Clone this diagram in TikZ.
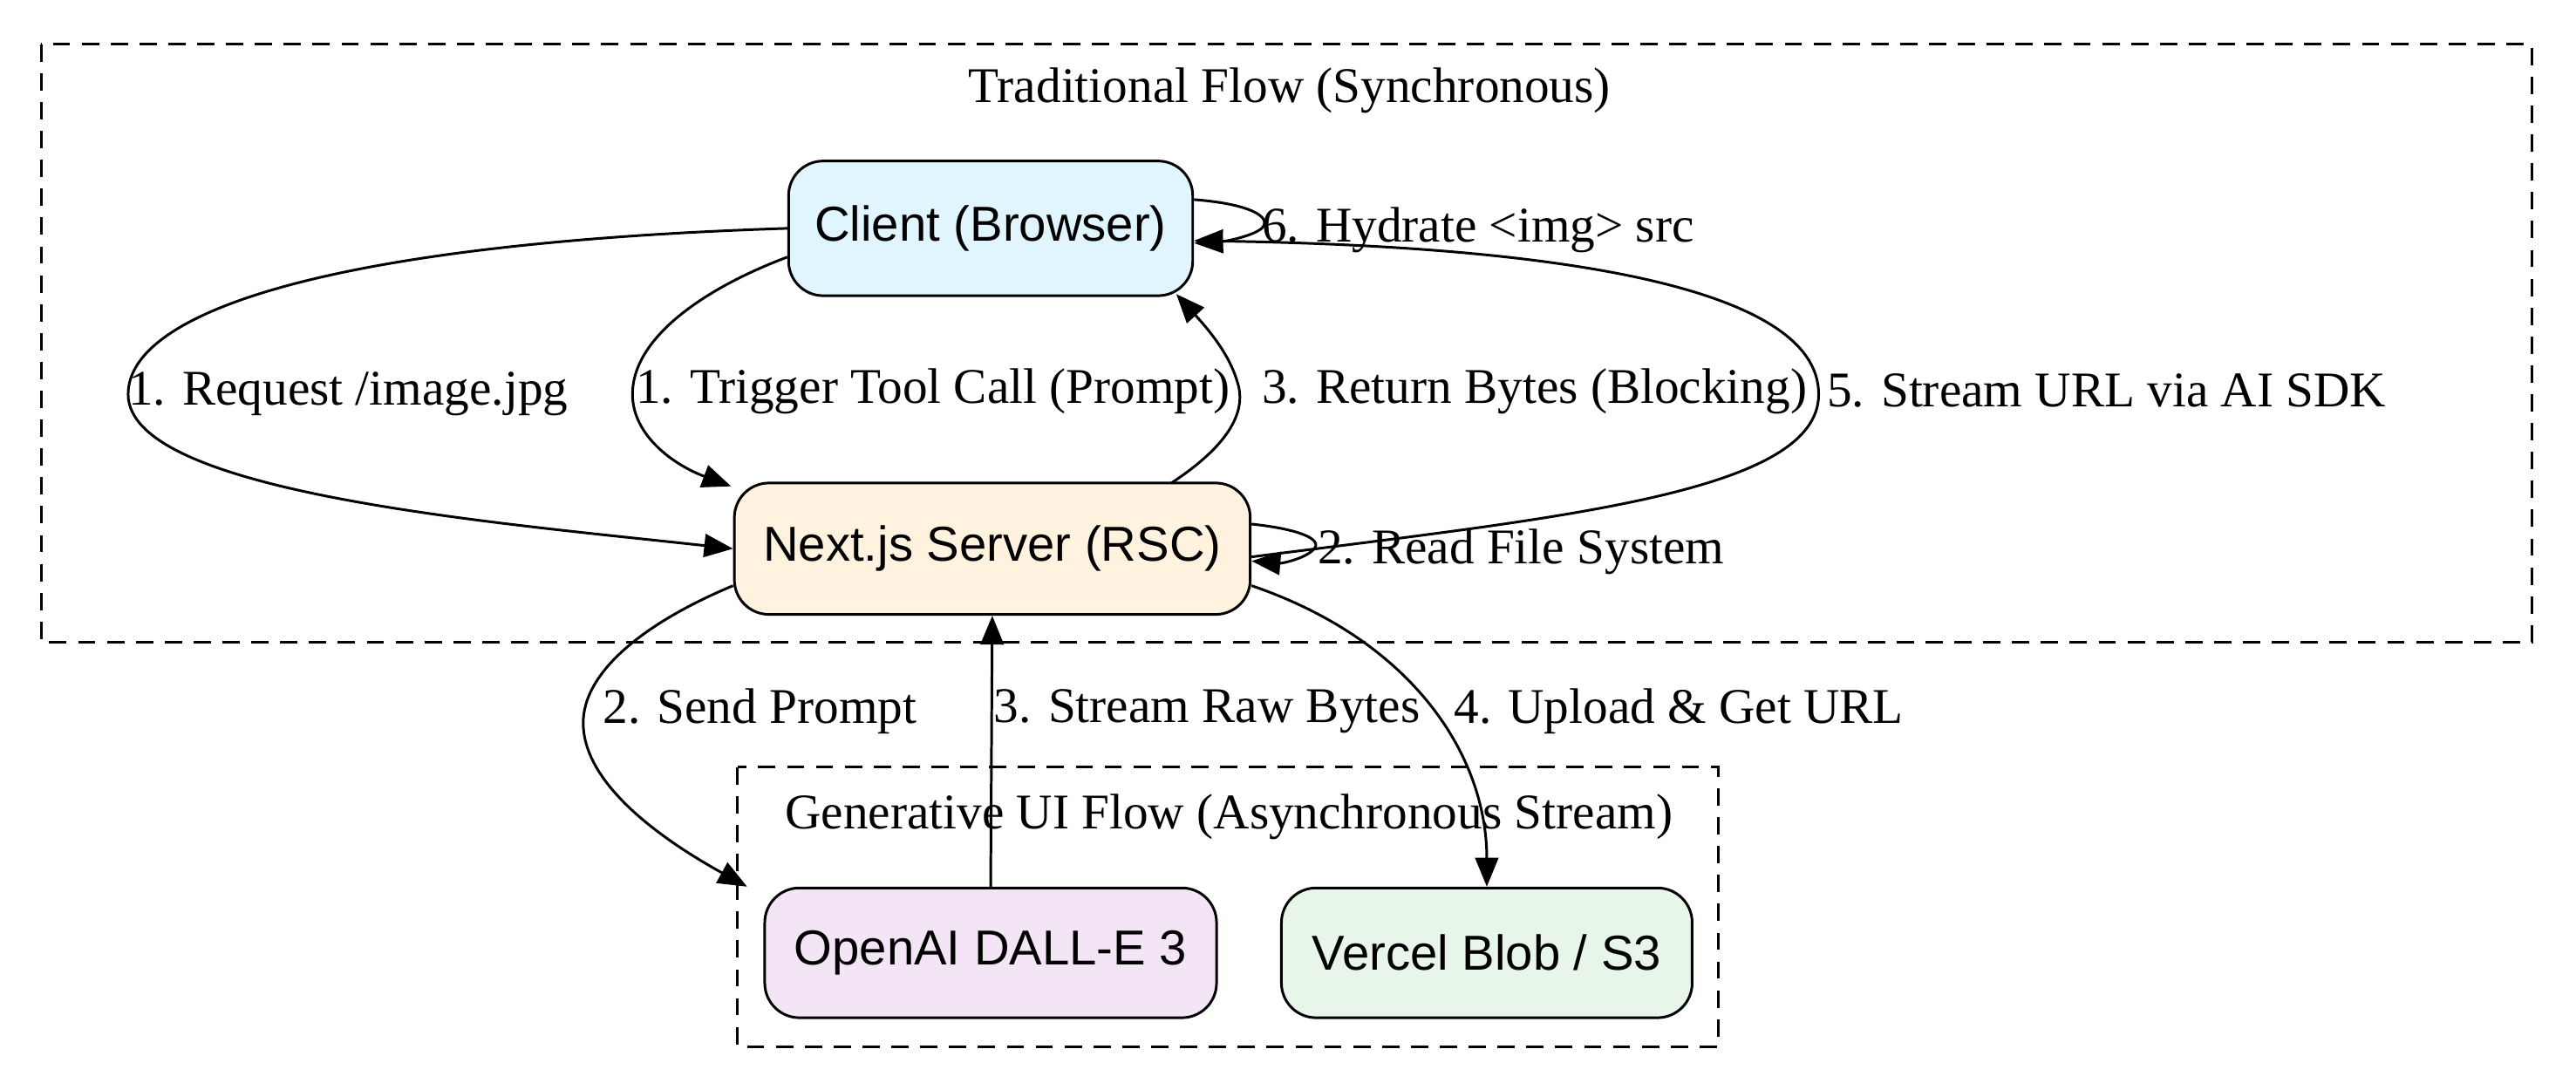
\documentclass[tikz,border=0pt]{standalone}
\usepackage{fontspec}
\setmainfont{Liberation Serif}
\newfontfamily\nodefont{Liberation Sans}
\usetikzlibrary{arrows.meta}
\begin{document}
\begin{tikzpicture}[x=0.02cm,y=-0.02cm,
  box/.style={draw,line width=0.9pt,rounded corners=12pt,font=\nodefont\fontsize{17}{20}\selectfont,inner sep=0pt},
  cl/.style={draw,line width=0.9pt,dash pattern=on 6pt off 4pt},
  lab/.style={font=\fontsize{17.3}{20}\selectfont,inner sep=1pt},
  e/.style={line width=0.9pt,-{Triangle[length=10pt,width=8pt]}}]
\useasboundingbox (0,0) rectangle (1568,663);
\definecolor{cb}{HTML}{E1F5FE}\definecolor{cs}{HTML}{FFF3E0}
\definecolor{co}{HTML}{F3E5F5}\definecolor{cv}{HTML}{E8F5E9}
\draw[cl] (25,27) rectangle (1541,391);
\node[lab] (t1) at (785,55) {Traditional Flow (Synchronous)};
\draw[cl] (449,467) rectangle (1046,637);
\node[lab] (t2) at (748,497) {Generative UI Flow (Asynchronous Stream)};
\node[box,fill=cb,minimum width=246*0.02cm,minimum height=82*0.02cm] (c) at (603,139) {Client (Browser)};
\node[box,fill=cs,minimum width=314*0.02cm,minimum height=80*0.02cm] (s) at (604,334) {Next.js Server (RSC)};
\node[box,fill=co,minimum width=275*0.02cm,minimum height=79*0.02cm] (o) at (603,580) {OpenAI DALL-E 3};
\node[box,fill=cv,minimum width=250*0.02cm,minimum height=79*0.02cm] (v) at (905,580) {Vercel Blob / S3};
\coordinate (rs) at (713,294);
\coordinate (rt) at (716,179);
% edges
\draw[e] (c.west) .. controls (200,148) and (78,190) .. (78,240) .. controls (78,300) and (300,318) .. (s.west);
\node[lab,anchor=west] (l1) at (76,240) {1. Request /image.jpg};
\draw[e] ([yshift=-0.35cm]c.west) .. controls (430,175) and (385,205) .. (385,240) .. controls (385,265) and (410,283) .. (445,296);
\node[lab,anchor=west] (l2) at (385,238) {1. Trigger Tool Call (Prompt)};
\draw[e] (rs) .. controls (745,273) and (760,252) .. (753,232) .. controls (748,215) and (735,200) .. (rt);
\node[lab,anchor=west] (l3) at (766,238) {3. Return Bytes (Blocking)};
\draw[e] ([yshift=-0.1cm]s.east) .. controls (950,315) and (1107,300) .. (1107,240) .. controls (1107,175) and (950,150) .. ([yshift=-0.15cm]c.east);
\node[lab,anchor=west] (l5) at (1110,238) {5. Stream URL via AI SDK};
\draw[e] ([yshift=0.35cm]c.east) .. controls (760,124) and (775,132) .. (768,139) .. controls (762,144) and (745,147) .. ([yshift=-0.18cm]c.east);
\node[lab,anchor=west] (l6) at (766,140) {6. Hydrate <img> src};
\draw[e] ([yshift=0.3cm]s.east) .. controls (790,322) and (805,328) .. (800,334) .. controls (795,340) and (780,343) .. ([yshift=-0.15cm]s.east);
\node[lab,anchor=west] (l7) at (800,336) {2. Read File System};
\draw[e] ([yshift=-0.45cm]s.west) .. controls (390,380) and (355,410) .. (355,440) .. controls (355,480) and (410,515) .. ([xshift=-0.2cm]o.north west);
\node[lab,anchor=west] (l8) at (365,433) {2. Send Prompt};
\draw[e] (o.north) -- (s.south);
\node[lab,anchor=west] (l9) at (603,433) {3. Stream Raw Bytes};
\draw[e] ([yshift=-0.45cm]s.east) .. controls (860,390) and (905,460) .. (v.north);
\node[lab,anchor=west] (l10) at (883,433) {4. Upload \& Get URL};
\end{tikzpicture}
\end{document}
